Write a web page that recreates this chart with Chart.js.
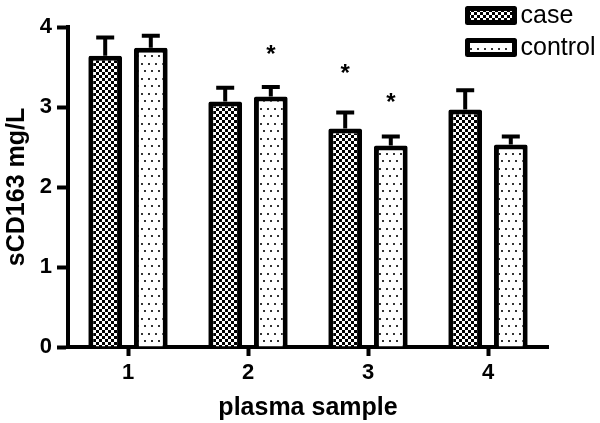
<!DOCTYPE html>
<html>
<head>
<meta charset="utf-8">
<script src="https://cdn.jsdelivr.net/npm/chart.js@4.4.0/dist/chart.umd.min.js"></script>
<style>
  html, body { margin: 0; padding: 0; background: #fff; }
  #wrap { width: 600px; height: 423px; position: relative; }
</style>
</head>
<body>
<div id="wrap"><canvas id="chart"></canvas></div>
<script>
// sCD163 per plasma sample, mean + upper error (SE)
const samples = ['1', '2', '3', '4'];
const caseValues = [3.64, 3.07, 2.73, 2.97];
const caseErrors = [0.23, 0.17, 0.20, 0.24];
const controlValues = [3.74, 3.13, 2.52, 2.53];
const controlErrors = [0.15, 0.12, 0.11, 0.10];
// asterisk heights (in mg/L), null = no mark
const caseStars = [null, null, 3.46, null];
const controlStars = [null, 3.69, 3.09, null];
const yTicks = [0, 1, 2, 3, 4];

const FONT = '"Liberation Sans", Arial, Helvetica, sans-serif';

function checkerPattern() {
  const c = document.createElement('canvas');
  c.width = 6; c.height = 6;
  const g = c.getContext('2d');
  g.fillStyle = '#fff'; g.fillRect(0, 0, 6, 6);
  g.fillStyle = '#000';
  g.fillRect(0, 0, 3, 3);
  g.fillRect(3, 3, 3, 3);
  return g.createPattern(c, 'repeat');
}

function dotPattern() {
  const c = document.createElement('canvas');
  c.width = 7; c.height = 15;
  const g = c.getContext('2d');
  g.fillStyle = '#fff'; g.fillRect(0, 0, 7, 15);
  g.fillStyle = '#333';
  g.fillRect(1, 3, 2, 2);
  g.fillRect(4, 10, 2, 2);
  return g.createPattern(c, 'repeat');
}

const errorBars = {
  id: 'errorBars',
  afterDatasetsDraw(chart) {
    const ctx = chart.ctx;
    const y = chart.scales.y;
    const errs = [caseErrors, controlErrors];
    const stars = [caseStars, controlStars];
    ctx.save();
    chart.data.datasets.forEach((ds, i) => {
      const meta = chart.getDatasetMeta(i);
      meta.data.forEach((bar, j) => {
        const top = y.getPixelForValue(ds.data[j] + errs[i][j]);
        ctx.strokeStyle = '#000';
        ctx.lineWidth = 4;
        ctx.beginPath();
        ctx.moveTo(bar.x, bar.y);
        ctx.lineTo(bar.x, top);
        ctx.moveTo(bar.x - 9, top);
        ctx.lineTo(bar.x + 9, top);
        ctx.stroke();
        if (stars[i][j] != null) {
          ctx.fillStyle = '#000';
          ctx.font = 'bold 24px ' + FONT;
          ctx.textAlign = 'center';
          ctx.textBaseline = 'middle';
          ctx.fillText('*', bar.x, y.getPixelForValue(stars[i][j]) + 4);
        }
      });
    });
    ctx.restore();
  }
};

const patternLegend = {
  id: 'patternLegend',
  afterDraw(chart) {
    const ctx = chart.ctx;
    ctx.save();
    chart.data.datasets.forEach((ds, i) => {
      const bx = 467.5, by = 8.5 + i * 32, bw = 47, bh = 14;
      ctx.fillStyle = ds.backgroundColor;
      ctx.fillRect(bx, by, bw, bh);
      ctx.strokeStyle = '#000';
      ctx.lineWidth = 5;
      ctx.lineJoin = 'round';
      ctx.strokeRect(bx, by, bw, bh);
      ctx.fillStyle = '#000';
      ctx.font = '25px ' + FONT;
      ctx.textAlign = 'left';
      ctx.textBaseline = 'middle';
      ctx.fillText(ds.label, bx + bw + 6, by + bh / 2 + 1);
    });
    ctx.restore();
  }
};

new Chart(document.getElementById('chart'), {
  type: 'bar',
  data: {
    labels: samples,
    datasets: [
      {
        label: 'case',
        data: caseValues,
        backgroundColor: checkerPattern(),
        borderColor: '#000',
        borderWidth: 5,
        borderRadius: 2,
        categoryPercentage: 0.76,
        barPercentage: 0.74,
      },
      {
        label: 'control',
        data: controlValues,
        backgroundColor: dotPattern(),
        borderColor: '#000',
        borderWidth: 5,
        borderRadius: 2,
        categoryPercentage: 0.76,
        barPercentage: 0.74,
      }
    ]
  },
  options: {
    responsive: true,
    maintainAspectRatio: false,
    animation: false,
    layout: { padding: { left: 0, top: 27, right: 52, bottom: 0 } },
    plugins: { legend: { display: false }, tooltip: { enabled: false } },
    scales: {
      x: {
        grid: { display: true, offset: false, drawOnChartArea: false, tickLength: 9, tickWidth: 4, tickColor: '#000' },
        border: { color: '#000', width: 4 },
        ticks: { color: '#000', font: { size: 22, weight: 'bold', family: FONT }, padding: 4 },
        title: { display: true, text: 'plasma sample', color: '#000', font: { size: 25, weight: 'bold', family: FONT }, padding: { top: 0, bottom: 0 } },
        afterFit: s => { s.height = 76; }
      },
      y: {
        min: 0, max: 4,
        afterBuildTicks: s => { s.ticks = yTicks.map(v => ({ value: v })); },
        grid: { display: true, drawOnChartArea: false, tickLength: 11, tickWidth: 4, tickColor: '#000' },
        border: { color: '#000', width: 4 },
        ticks: { color: '#000', font: { size: 22, weight: 'bold', family: FONT }, padding: 5 },
        title: { display: true, text: 'sCD163 mg/L', color: '#000', font: { size: 25, weight: 'bold', family: FONT }, padding: { top: 2, bottom: 0 } },
        afterFit: s => { s.width = 68; }
      }
    }
  },
  plugins: [errorBars, patternLegend]
});
</script>
</body>
</html>
